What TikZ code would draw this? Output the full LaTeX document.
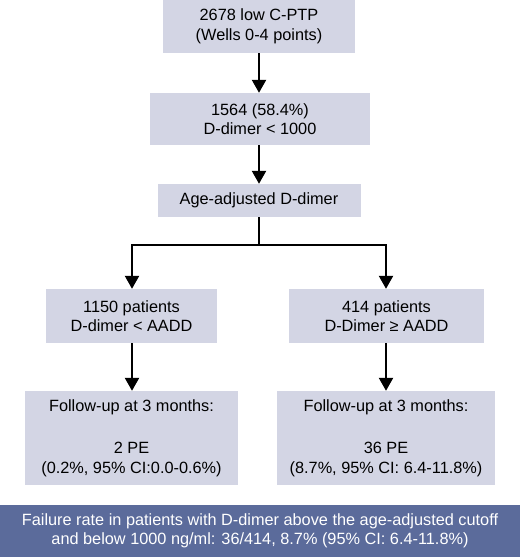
\documentclass[tikz,border=0pt]{standalone}
\usepackage{fontspec}
\setmainfont{Liberation Sans}
\usetikzlibrary{arrows.meta}
\definecolor{boxfill}{HTML}{D3D5E4}
\definecolor{banner}{HTML}{5B6B9B}
\begin{document}
\begin{tikzpicture}[x=1pt,y=-1pt,
  box/.style={fill=boxfill,draw=none,inner sep=0pt,align=center,font=\fontsize{16.3}{19.5}\selectfont},
  arr/.style={line width=2.3pt,-{Triangle[length=13pt,width=14pt]}},
  ln/.style={line width=2.3pt}]
\useasboundingbox (0,0) rectangle (520,557);
\node[box,minimum width=192pt,minimum height=53pt] (b1) at (259,26.5) {2678 low C-PTP\\(Wells 0-4 points)};
\node[box,minimum width=220pt,minimum height=52pt] (b2) at (260,119) {1564 (58.4\%)\\D-dimer < 1000};
\node[box,minimum width=203pt,minimum height=33pt] (b3) at (259,200.5) {Age-adjusted D-dimer};
\node[box,minimum width=171pt,minimum height=54pt] (b4) at (131.5,316) {1150 patients\\D-dimer < AADD};
\node[box,minimum width=195pt,minimum height=54pt] (b5) at (386.5,316) {414 patients\\D-Dimer ≥ AADD};
\node[box,minimum width=213pt,minimum height=94pt] (b6) at (131.5,438) {Follow-up at 3 months:\\[23pt]2 PE\\(0.2\%, 95\% CI:0.0-0.6\%)};
\node[box,minimum width=218pt,minimum height=94pt] (b7) at (386,438) {Follow-up at 3 months:\\[23pt]36 PE\\(8.7\%, 95\% CI: 6.4-11.8\%)};
\node[box,fill=banner,text=white,minimum width=520pt,minimum height=52pt] (b8) at (260,531) {Failure rate in patients with D-dimer above the age-adjusted cutoff\\and below 1000 ng/ml: 36/414, 8.7\% (95\% CI: 6.4-11.8\%)};
\coordinate (j) at (259,245);
\coordinate (jl) at (132,245);
\coordinate (jr) at (386,245);
\draw[arr] (b1.south -| 259,0) -- (b2.north -| 259,0);
\draw[arr] (b2.south -| 259,0) -- (b3.north -| 259,0);
\draw[ln] (b3.south -| 259,0) -- (j);
\draw[ln,line cap=rect] (jl) -- (jr);
\draw[arr] (jl) -- (b4.north -| jl);
\draw[arr] (jr) -- (b5.north -| jr);
\draw[arr] (b4.south -| jl) -- (b6.north -| jl);
\draw[arr] (b5.south -| jr) -- (b7.north -| jr);
\end{tikzpicture}
\end{document}
